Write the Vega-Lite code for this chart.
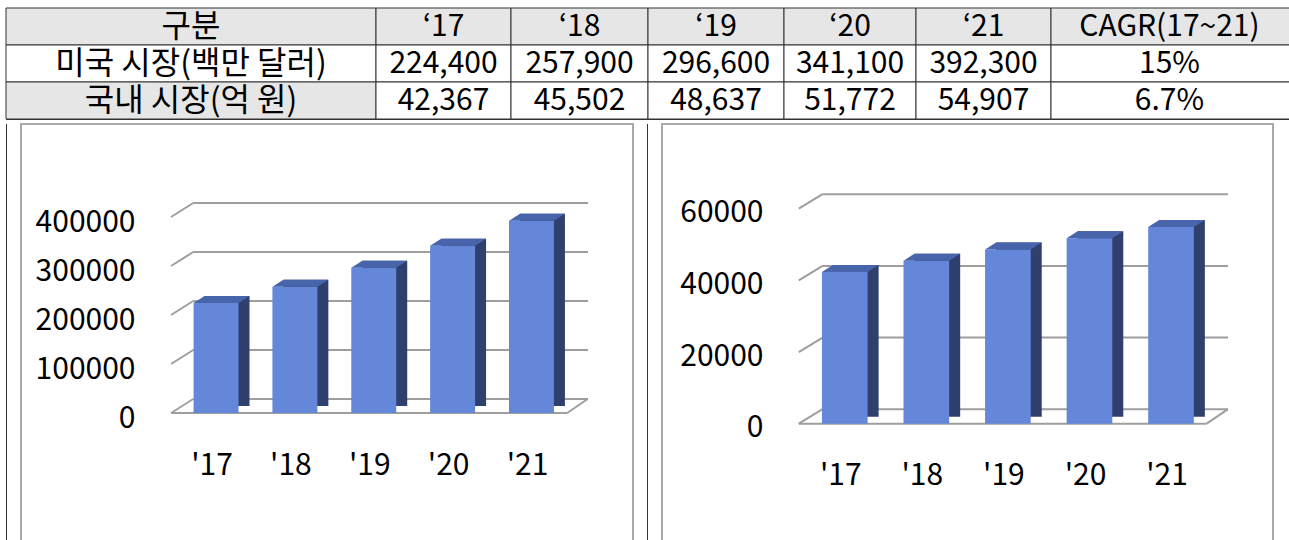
{
  "$schema": "https://vega.github.io/schema/vega-lite/v6.json",
  "padding": {"left": 5, "top": 7, "right": 0, "bottom": 0},
  "background": "#ffffff",
  "spacing": 3,
  "config": {
    "view": {"stroke": "#333333", "strokeWidth": 1},
    "font": "Noto Sans CJK KR",
    "axis": {"labelFont": "Noto Sans CJK KR", "labelColor": "#000000"}
  },
  "datasets": {
    "us": [
      {"year": "'17", "v": 224400},
      {"year": "'18", "v": 257900},
      {"year": "'19", "v": 296600},
      {"year": "'20", "v": 341100},
      {"year": "'21", "v": 392300}
    ],
    "kr": [
      {"year": "'17", "v": 42367},
      {"year": "'18", "v": 45502},
      {"year": "'19", "v": 48637},
      {"year": "'20", "v": 51772},
      {"year": "'21", "v": 54907}
    ],
    "usTicks": [{"t": 0}, {"t": 100000}, {"t": 200000}, {"t": 300000}, {"t": 400000}],
    "krTicks": [{"t": 0}, {"t": 20000}, {"t": 40000}, {"t": 60000}],
    "table": [
      {"col": "c0", "row": "h", "text": "구분"},
      {"col": "c1", "row": "h", "text": "‘17"},
      {"col": "c2", "row": "h", "text": "‘18"},
      {"col": "c3", "row": "h", "text": "‘19"},
      {"col": "c4", "row": "h", "text": "‘20"},
      {"col": "c5", "row": "h", "text": "‘21"},
      {"col": "c6", "row": "h", "text": "CAGR(17~21)"},
      {"col": "c0", "row": "us", "text": "미국 시장(백만 달러)"},
      {"col": "c1", "row": "us", "text": "224,400"},
      {"col": "c2", "row": "us", "text": "257,900"},
      {"col": "c3", "row": "us", "text": "296,600"},
      {"col": "c4", "row": "us", "text": "341,100"},
      {"col": "c5", "row": "us", "text": "392,300"},
      {"col": "c6", "row": "us", "text": "15%"},
      {"col": "c0", "row": "kr", "text": "국내 시장(억 원)"},
      {"col": "c1", "row": "kr", "text": "42,367"},
      {"col": "c2", "row": "kr", "text": "45,502"},
      {"col": "c3", "row": "kr", "text": "48,637"},
      {"col": "c4", "row": "kr", "text": "51,772"},
      {"col": "c5", "row": "kr", "text": "54,907"},
      {"col": "c6", "row": "kr", "text": "6.7%"}
    ]
  },
  "vconcat": [
    {
      "spacing": 0,
      "bounds": "flush",
      "hconcat": [
        {"width": 370, "height": 111, "data": {"name": "table"}, "transform": [{"filter": "datum.col === 'c0'"}],
         "layer": [
          {"mark": {"type": "rect", "stroke": "#333333", "strokeWidth": 1},
           "encoding": {"y": {"field": "row", "type": "nominal", "sort": ["h", "us", "kr"], "axis": null},
                        "fill": {"condition": {"test": "datum.row === 'h' || (datum.row === 'kr' && datum.col === 'c0')", "value": "#e6e6e6"}, "value": "#ffffff"}}},
          {"mark": {"type": "text", "fontSize": 32, "font": "Noto Sans CJK KR", "color": "#000000", "baseline": "middle"},
           "encoding": {"y": {"field": "row", "type": "nominal", "sort": ["h", "us", "kr"], "axis": null}, "text": {"field": "text"}}}
         ]},
        {"width": 135, "height": 111, "data": {"name": "table"}, "transform": [{"filter": "datum.col === 'c1'"}],
         "layer": [
          {"mark": {"type": "rect", "stroke": "#333333", "strokeWidth": 1},
           "encoding": {"y": {"field": "row", "type": "nominal", "sort": ["h", "us", "kr"], "axis": null},
                        "fill": {"condition": {"test": "datum.row === 'h'", "value": "#e6e6e6"}, "value": "#ffffff"}}},
          {"mark": {"type": "text", "fontSize": 30, "font": "Noto Sans CJK KR", "color": "#000000", "baseline": "middle"},
           "encoding": {"y": {"field": "row", "type": "nominal", "sort": ["h", "us", "kr"], "axis": null}, "text": {"field": "text"}}}
         ]},
        {"width": 137, "height": 111, "data": {"name": "table"}, "transform": [{"filter": "datum.col === 'c2'"}],
         "layer": [
          {"mark": {"type": "rect", "stroke": "#333333", "strokeWidth": 1},
           "encoding": {"y": {"field": "row", "type": "nominal", "sort": ["h", "us", "kr"], "axis": null},
                        "fill": {"condition": {"test": "datum.row === 'h'", "value": "#e6e6e6"}, "value": "#ffffff"}}},
          {"mark": {"type": "text", "fontSize": 30, "font": "Noto Sans CJK KR", "color": "#000000", "baseline": "middle"},
           "encoding": {"y": {"field": "row", "type": "nominal", "sort": ["h", "us", "kr"], "axis": null}, "text": {"field": "text"}}}
         ]},
        {"width": 136, "height": 111, "data": {"name": "table"}, "transform": [{"filter": "datum.col === 'c3'"}],
         "layer": [
          {"mark": {"type": "rect", "stroke": "#333333", "strokeWidth": 1},
           "encoding": {"y": {"field": "row", "type": "nominal", "sort": ["h", "us", "kr"], "axis": null},
                        "fill": {"condition": {"test": "datum.row === 'h'", "value": "#e6e6e6"}, "value": "#ffffff"}}},
          {"mark": {"type": "text", "fontSize": 30, "font": "Noto Sans CJK KR", "color": "#000000", "baseline": "middle"},
           "encoding": {"y": {"field": "row", "type": "nominal", "sort": ["h", "us", "kr"], "axis": null}, "text": {"field": "text"}}}
         ]},
        {"width": 132, "height": 111, "data": {"name": "table"}, "transform": [{"filter": "datum.col === 'c4'"}],
         "layer": [
          {"mark": {"type": "rect", "stroke": "#333333", "strokeWidth": 1},
           "encoding": {"y": {"field": "row", "type": "nominal", "sort": ["h", "us", "kr"], "axis": null},
                        "fill": {"condition": {"test": "datum.row === 'h'", "value": "#e6e6e6"}, "value": "#ffffff"}}},
          {"mark": {"type": "text", "fontSize": 30, "font": "Noto Sans CJK KR", "color": "#000000", "baseline": "middle"},
           "encoding": {"y": {"field": "row", "type": "nominal", "sort": ["h", "us", "kr"], "axis": null}, "text": {"field": "text"}}}
         ]},
        {"width": 135, "height": 111, "data": {"name": "table"}, "transform": [{"filter": "datum.col === 'c5'"}],
         "layer": [
          {"mark": {"type": "rect", "stroke": "#333333", "strokeWidth": 1},
           "encoding": {"y": {"field": "row", "type": "nominal", "sort": ["h", "us", "kr"], "axis": null},
                        "fill": {"condition": {"test": "datum.row === 'h'", "value": "#e6e6e6"}, "value": "#ffffff"}}},
          {"mark": {"type": "text", "fontSize": 30, "font": "Noto Sans CJK KR", "color": "#000000", "baseline": "middle"},
           "encoding": {"y": {"field": "row", "type": "nominal", "sort": ["h", "us", "kr"], "axis": null}, "text": {"field": "text"}}}
         ]},
        {"width": 245, "height": 111, "data": {"name": "table"}, "transform": [{"filter": "datum.col === 'c6'"}],
         "layer": [
          {"mark": {"type": "rect", "stroke": "#333333", "strokeWidth": 1},
           "encoding": {"y": {"field": "row", "type": "nominal", "sort": ["h", "us", "kr"], "axis": null},
                        "fill": {"condition": {"test": "datum.row === 'h'", "value": "#e6e6e6"}, "value": "#ffffff"}}},
          {"mark": {"type": "text", "fontSize": 30, "font": "Noto Sans CJK KR", "color": "#000000", "baseline": "middle", "dx": -4},
           "encoding": {"y": {"field": "row", "type": "nominal", "sort": ["h", "us", "kr"], "axis": null}, "text": {"field": "text"}}}
         ]}
      ]
    },
    {
      "spacing": 14,
      "bounds": "flush",
      "hconcat": [
        {"width": 1, "height": 420, "view": {"fill": "#333333", "stroke": null},
         "data": {"values": [{"k": 0}]},
         "mark": {"type": "point", "opacity": 0, "size": 0.1},
         "encoding": {}},
        {
          "width": 612, "height": 420,
          "view": {"stroke": "#a9a9a9", "strokeWidth": 2},
          "data": {"name": "us"},
          "layer": [
            {"data": {"name": "usTicks"},
             "mark": {"type": "point", "shape": "M-0.0613,-0.0376L1,-0.0376", "size": 553536, "filled": false, "opacity": 1, "color": "#9e9e9e", "strokeWidth": 2},
             "encoding": {
               "x": {"datum": "'17", "type": "nominal"},
               "y": {"field": "t", "type": "quantitative"}
             }},
            {"data": {"name": "usTicks"},
             "mark": {"type": "point", "shape": "M-1,0L-0.5067,-0.3111", "size": 8100, "filled": false, "opacity": 1, "color": "#9e9e9e", "strokeWidth": 2},
             "encoding": {
               "x": {"datum": "'17", "type": "nominal"},
               "y": {"field": "t", "type": "quantitative"}
             }},
            {"data": {"values": [{"t": 0}]},
             "mark": {"type": "point", "shape": "M-0.1281,0L1,0", "size": 493366, "filled": false, "opacity": 1, "color": "#9e9e9e", "strokeWidth": 2},
             "encoding": {
               "x": {"datum": "'17", "type": "nominal"},
               "y": {"field": "t", "type": "quantitative"}
             }},
            {"data": {"values": [{"t": 0}]},
             "mark": {"type": "point", "shape": "M0.6352,0L1,-0.2491", "size": 12634, "filled": false, "opacity": 1, "color": "#9e9e9e", "strokeWidth": 2},
             "encoding": {
               "x": {"datum": "'21", "type": "nominal"},
               "y": {"field": "t", "type": "quantitative"}
             }},
            {"mark": {"type": "bar", "color": "#2f406e", "xOffset": 11, "x2Offset": 11, "yOffset": -7, "y2Offset": -7},
             "encoding": {
               "x": {"field": "year", "type": "nominal"},
               "y": {"field": "v", "type": "quantitative"}
             }},
            {"mark": {"type": "bar", "color": "#6587d9"},
             "encoding": {
               "x": {"field": "year", "type": "nominal", "sort": null,
                     "scale": {"domain": ["'17", "'18", "'19", "'20", "'21"], "range": [155.6, 549.9], "paddingInner": 0.43, "paddingOuter": 0.215},
                     "axis": {"orient": "bottom", "offset": -104, "labelPadding": 25, "tickSize": 0, "ticks": false, "domain": false, "grid": false, "bandPosition": 0.5, "labelFontSize": 30, "labelBaseline": "middle", "labelAlign": "center", "labelAngle": 0, "labelOffset": -4, "title": null}},
               "y": {"field": "v", "type": "quantitative",
                     "scale": {"domain": [0, 400000], "range": [289, 93], "nice": false, "zero": true},
                     "axis": {"orient": "left", "offset": -150, "labelPadding": 36, "tickSize": 0, "ticks": false, "domain": false, "grid": false, "values": [0, 100000, 200000, 300000, 400000], "format": "d", "labelFontSize": 30, "labelOffset": 5, "title": null}}
             }},
            {"mark": {"type": "point", "shape": "M-1,0L1,0L1.4895,-0.3115L-0.5105,-0.3115Z", "size": 2020, "filled": true, "opacity": 1, "color": "#4864aa", "strokeWidth": 0},
             "encoding": {
               "x": {"field": "year", "type": "nominal"},
               "y": {"field": "v", "type": "quantitative"}
             }}
          ]
        },
        {"width": 1, "height": 420, "view": {"fill": "#333333", "stroke": null},
         "data": {"values": [{"k": 0}]},
         "mark": {"type": "point", "opacity": 0, "size": 0.1},
         "encoding": {}},
        {
          "width": 611, "height": 420,
          "view": {"stroke": "#a9a9a9", "strokeWidth": 2},
          "data": {"name": "kr"},
          "layer": [
            {"data": {"name": "krTicks"},
             "mark": {"type": "point", "shape": "M-0.0579,-0.0378L1,-0.0378", "size": 587369, "filled": false, "opacity": 1, "color": "#9e9e9e", "strokeWidth": 2},
             "encoding": {
               "x": {"datum": "'17", "type": "nominal"},
               "y": {"field": "t", "type": "quantitative"}
             }},
            {"data": {"name": "krTicks"},
             "mark": {"type": "point", "shape": "M-1,0L-0.4826,-0.3152", "size": 8464, "filled": false, "opacity": 1, "color": "#9e9e9e", "strokeWidth": 2},
             "encoding": {
               "x": {"datum": "'17", "type": "nominal"},
               "y": {"field": "t", "type": "quantitative"}
             }},
            {"data": {"values": [{"t": 0}]},
             "mark": {"type": "point", "shape": "M-0.1271,0L1,0", "size": 523597, "filled": false, "opacity": 1, "color": "#9e9e9e", "strokeWidth": 2},
             "encoding": {
               "x": {"datum": "'17", "type": "nominal"},
               "y": {"field": "t", "type": "quantitative"}
             }},
            {"data": {"values": [{"t": 0}]},
             "mark": {"type": "point", "shape": "M0.6246,0L1,-0.2544", "size": 12996, "filled": false, "opacity": 1, "color": "#9e9e9e", "strokeWidth": 2},
             "encoding": {
               "x": {"datum": "'21", "type": "nominal"},
               "y": {"field": "t", "type": "quantitative"}
             }},
            {"mark": {"type": "bar", "color": "#2f406e", "xOffset": 11, "x2Offset": 11, "yOffset": -7, "y2Offset": -7},
             "encoding": {
               "x": {"field": "year", "type": "nominal"},
               "y": {"field": "v", "type": "quantitative"}
             }},
            {"mark": {"type": "bar", "color": "#6587d9"},
             "encoding": {
               "x": {"field": "year", "type": "nominal", "sort": null,
                     "scale": {"domain": ["'17", "'18", "'19", "'20", "'21"], "range": [142.0, 549.8], "paddingInner": 0.44, "paddingOuter": 0.22},
                     "axis": {"orient": "bottom", "offset": -94, "labelPadding": 25, "tickSize": 0, "ticks": false, "domain": false, "grid": false, "bandPosition": 0.5, "labelFontSize": 30, "labelBaseline": "middle", "labelAlign": "center", "labelAngle": 0, "labelOffset": -4, "title": null}},
               "y": {"field": "v", "type": "quantitative",
                     "scale": {"domain": [0, 60000], "range": [299.7, 84.7], "nice": false, "zero": true},
                     "axis": {"orient": "left", "offset": -136.8, "labelPadding": 35.8, "tickSize": 0, "ticks": false, "domain": false, "grid": false, "values": [0, 20000, 40000, 60000], "format": "d", "labelFontSize": 30, "labelOffset": 4, "title": null}}
             }},
            {"mark": {"type": "point", "shape": "M-1,0L1,0L1.4816,-0.3065L-0.5184,-0.3065Z", "size": 2086, "filled": true, "opacity": 1, "color": "#4864aa", "strokeWidth": 0},
             "encoding": {
               "x": {"field": "year", "type": "nominal"},
               "y": {"field": "v", "type": "quantitative"}
             }}
          ]
        }
      ]
    }
  ]
}
